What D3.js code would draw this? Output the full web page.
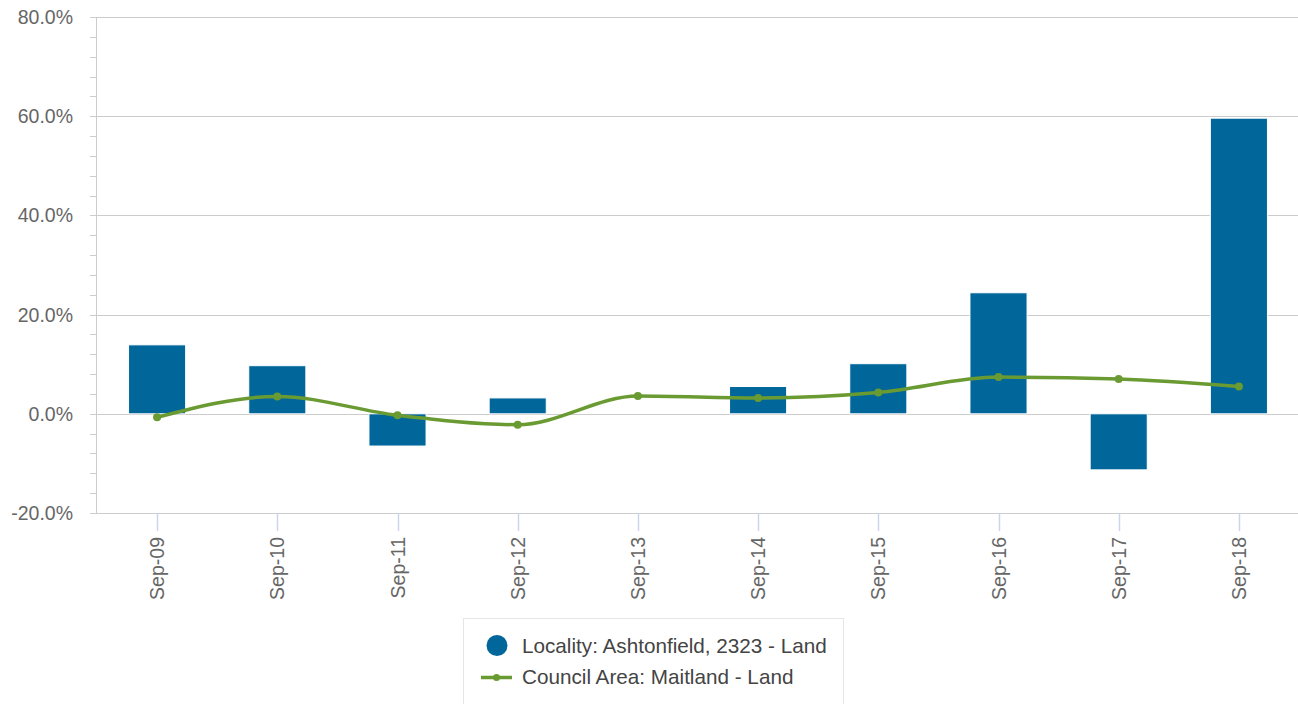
<!DOCTYPE html>
<html>
<head>
<meta charset="utf-8">
<script src="https://cdn.jsdelivr.net/npm/d3@7"></script>
<style>
  html, body { margin: 0; padding: 0; background: #fff; }
  svg { display: block; font-family: "Liberation Sans", Arial, sans-serif; }
</style>
</head>
<body>
<div id="chart"></div>
<script>
// Data
const categories = ["Sep-09", "Sep-10", "Sep-11", "Sep-12", "Sep-13", "Sep-14", "Sep-15", "Sep-16", "Sep-17", "Sep-18"];
const localityValues = [13.9, 9.7, -6.5, 3.2, null, 5.5, 10.1, 24.4, -11.3, 59.6];
const councilValues = [-0.7, 3.5, -0.3, -2.2, 3.6, 3.2, 4.3, 7.4, 7.0, 5.5];
const yTicks = [-20, 0, 20, 40, 60, 80];
const seriesNames = ["Locality: Ashtonfield, 2323 - Land", "Council Area: Maitland - Land"];

const width = 1298, height = 704;
const margin = { top: 17, right: 0, bottom: 191, left: 97 };

const barColor = "#01669a";
const lineColor = "#6a9a32";

const svg = d3.select("#chart")
    .append("svg")
    .attr("width", width)
    .attr("height", height);

const x = d3.scaleBand()
    .domain(categories)
    .range([margin.left, width - margin.right + 1])
    .paddingInner(0.525)
    .paddingOuter(0.2625);

const y = d3.scaleLinear()
    .domain([-20, 80])
    .range([height - margin.bottom, margin.top]);

const cx = d => x(d) + x.bandwidth() / 2;

// Minor ticks on the y axis
const minorTicks = d3.range(-20, 80.01, 4).filter(v => yTicks.indexOf(v) < 0);
svg.append("g")
    .selectAll("line")
    .data(minorTicks)
    .enter()
    .append("line")
    .attr("x1", margin.left - 7)
    .attr("x2", margin.left)
    .attr("y1", d => Math.round(y(d)) + 0.5)
    .attr("y2", d => Math.round(y(d)) + 0.5)
    .attr("stroke", "#cccccc")
    .attr("stroke-width", 1);

// Grid lines
svg.append("g")
    .selectAll("line")
    .data(yTicks)
    .enter()
    .append("line")
    .attr("x1", margin.left - 7)
    .attr("x2", width)
    .attr("y1", d => Math.round(y(d)) + 0.5)
    .attr("y2", d => Math.round(y(d)) + 0.5)
    .attr("stroke", "#cccccc")
    .attr("stroke-width", 1);

// y axis line
svg.append("line")
    .attr("x1", margin.left - 0.5)
    .attr("x2", margin.left - 0.5)
    .attr("y1", y(80))
    .attr("y2", y(-20))
    .attr("stroke", "#cccccc");

// y labels (plain hyphen for negatives, like the original)
svg.append("g")
    .selectAll("text")
    .data(yTicks)
    .enter()
    .append("text")
    .attr("x", 73)
    .attr("y", d => y(d))
    .attr("dy", "0.36em")
    .attr("text-anchor", "end")
    .attr("font-size", "19.5px")
    .attr("fill", "#666666")
    .text(d => d.toFixed(1) + "%");

// x ticks
svg.append("g")
    .selectAll("line")
    .data(categories)
    .enter()
    .append("line")
    .attr("x1", d => Math.round(cx(d)) + 0.5)
    .attr("x2", d => Math.round(cx(d)) + 0.5)
    .attr("y1", y(-20))
    .attr("y2", y(-20) + 18)
    .attr("stroke", "#ccd6eb")
    .attr("stroke-width", 1.5);

// x labels (rotated)
svg.append("g")
    .selectAll("text")
    .data(categories)
    .enter()
    .append("text")
    .attr("transform", d => `translate(${cx(d)}, ${y(-20) + 24}) rotate(-90)`)
    .attr("dy", "0.36em")
    .attr("text-anchor", "end")
    .attr("font-size", "19.5px")
    .attr("fill", "#666666")
    .text(d => d);

// Bars
svg.append("g")
    .selectAll("rect")
    .data(categories.map((c, i) => ({ c: c, v: localityValues[i] })).filter(d => d.v !== null))
    .enter()
    .append("rect")
    .attr("x", d => x(d.c))
    .attr("width", x.bandwidth())
    .attr("y", d => y(Math.max(0, d.v)))
    .attr("height", d => Math.abs(y(d.v) - y(0)))
    .attr("fill", barColor)
    .attr("stroke", "#ffffff")
    .attr("stroke-width", 1);

// Line
const points = categories.map((c, i) => ({ c: c, v: councilValues[i] }));
const line = d3.line()
    .x(d => cx(d.c))
    .y(d => y(d.v))
    .curve(d3.curveMonotoneX);

svg.append("path")
    .datum(points)
    .attr("d", line)
    .attr("fill", "none")
    .attr("stroke", lineColor)
    .attr("stroke-width", 3.5);

svg.append("g")
    .selectAll("circle")
    .data(points)
    .enter()
    .append("circle")
    .attr("cx", d => cx(d.c))
    .attr("cy", d => y(d.v))
    .attr("r", 4)
    .attr("fill", lineColor);

// Legend
const legend = svg.append("g");
legend.append("rect")
    .attr("x", 463.5)
    .attr("y", 618.5)
    .attr("width", 380)
    .attr("height", 100)
    .attr("fill", "#ffffff")
    .attr("stroke", "#e6e6e6");

legend.append("circle")
    .attr("cx", 497)
    .attr("cy", 645.5)
    .attr("r", 10.5)
    .attr("fill", barColor);

legend.append("line")
    .attr("x1", 481)
    .attr("x2", 512)
    .attr("y1", 677.5)
    .attr("y2", 677.5)
    .attr("stroke", lineColor)
    .attr("stroke-width", 3.5);
legend.append("circle")
    .attr("cx", 496.5)
    .attr("cy", 677.5)
    .attr("r", 3.5)
    .attr("fill", lineColor);

legend.selectAll("text.item")
    .data(seriesNames)
    .enter()
    .append("text")
    .attr("class", "item")
    .attr("x", 522)
    .attr("y", (d, i) => 645.5 + i * 31.5)
    .attr("dy", "0.36em")
    .attr("font-size", "20.7px")
    .attr("fill", "#444444")
    .text(d => d);
</script>
</body>
</html>
